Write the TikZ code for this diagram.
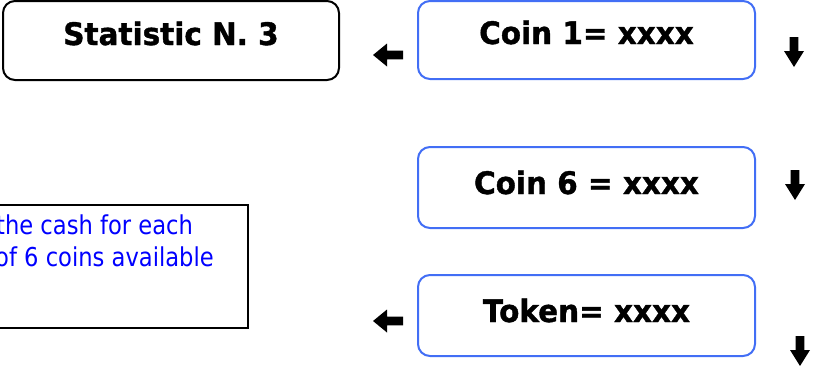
\documentclass[tikz,border=0pt]{standalone}
\usepackage{fontspec}
\setmainfont{DejaVu Sans}
\newfontfamily\boxfont{DejaVu Sans Bold}[FakeStretch=0.95,FakeBold=1.2]
\newfontfamily\notefont{DejaVu Sans}[FakeStretch=0.87]
\definecolor{framblue}{RGB}{66,110,245}
\definecolor{noteblue}{RGB}{0,0,255}
\tikzset{
  roundbox/.style={draw, line width=2pt, rounded corners=12pt, inner sep=0pt,
    font=\boxfont\fontsize{31}{34}\selectfont, anchor=base},
  statbox/.style={roundbox, draw=black, minimum width=336pt,
    text height=44pt, text depth=35pt},
  coinbox/.style={roundbox, draw=framblue, minimum width=337pt},
  notebox/.style={draw=black, line width=1.6pt, inner sep=0pt, anchor=north west,
    minimum width=267pt, minimum height=123pt},
  noteline/.style={anchor=base west, inner sep=0pt, text=noteblue,
    font=\notefont\fontsize{26}{31}\selectfont},
  pics/downarr/.style={code={
    \fill[black] (-4.3,0) -- (4.3,0) -- (4.3,14) -- (10,14) -- (0,30)
      -- (-10,14) -- (-4.3,14) -- cycle;}},
  pics/leftarr/.style={code={
    \fill[black] (0,0) -- (14,-11.5) -- (14,-4.3) -- (30,-4.3) -- (30,4.3)
      -- (14,4.3) -- (14,11.5) -- cycle;}}
}
\begin{document}
\begin{tikzpicture}[x=1pt,y=-1pt]
  \useasboundingbox (0,0) rectangle (813,365);
  \clip (0,0) rectangle (813,365);

  % statistic header
  \node[statbox] (stat) at (171,45) {Statistic N. 3};

  % coin counters
  \node[coinbox, text height=43pt, text depth=35pt] (coin1) at (586.5,44) {Coin 1= xxxx};
  \node[coinbox, text height=47pt, text depth=34pt] (coin6) at (586.5,194) {Coin 6 = xxxx};
  \node[coinbox, text height=47pt, text depth=34pt] (token) at (586.5,322) {Token= xxxx};

  % explanatory note
  \node[notebox] (note) at (-20,204) {};
  \node[noteline] (note1) at (-4,234) {the cash for each};
  \node[noteline] (note2) at (-5,266) {of 6 coins available};

  % key arrows
  \pic at (373,55) {leftarr};
  \pic at (373,321) {leftarr};
  \pic at (794,37) {downarr};
  \pic at (795,170) {downarr};
  \pic at (800,336) {downarr};
\end{tikzpicture}
\end{document}
